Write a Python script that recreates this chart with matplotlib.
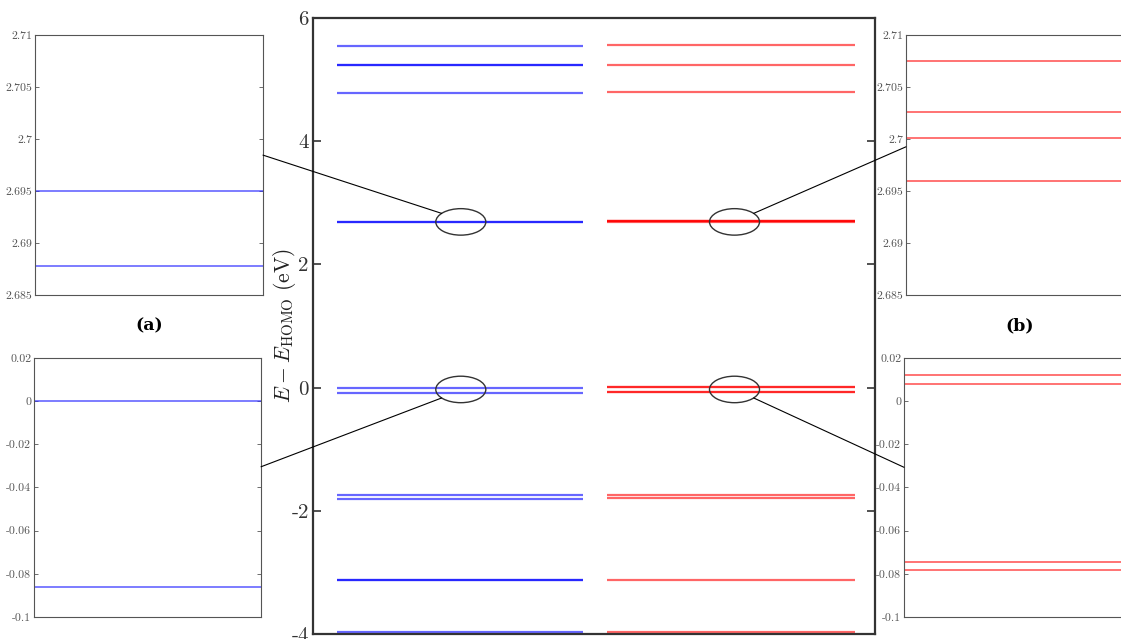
import matplotlib
matplotlib.use("Agg")
import matplotlib.pyplot as plt
import numpy as np
from matplotlib.patches import Ellipse, ConnectionPatch

plt.rcParams['mathtext.fontset'] = 'cm'
plt.rcParams['axes.unicode_minus'] = False

# ---- data ----
blue_levels = [5.55, 5.23, 5.23, 4.79, 2.695, 2.6878, 0.0, -0.086,
               -1.75, -1.81, -3.12, -3.13, -3.96]
red_levels = [5.56, 5.24, 4.80, 2.7075, 2.7026, 2.7001, 2.6960,
              0.0121, 0.0081, -0.0746, -0.0783, -1.74, -1.80, -3.12, -3.96]

inset_a_top = [2.695, 2.6878]
inset_a_bot = [0.0, -0.086]
inset_b_top = [2.7075, 2.7026, 2.7001, 2.6960]
inset_b_bot = [0.0121, 0.0081, -0.0746, -0.0783]

main_ticks = [6, 4, 2, 0, -2, -4]
main_ticklabels = ["6", "4", "2", "0", "-2", "-4"]
top_ticks = [2.71, 2.705, 2.70, 2.695, 2.69, 2.685]
top_ticklabels = ["2.71", "2.705", "2.7", "2.695", "2.69", "2.685"]
bot_ticks = [0.02, 0.0, -0.02, -0.04, -0.06, -0.08, -0.1]
bot_ticklabels = ["0.02", "0", "-0.02", "-0.04", "-0.06", "-0.08", "-0.1"]

W, H = 1121, 639
fig = plt.figure(figsize=(W / 100, H / 100), dpi=100)


def px_axes(l, t, r, b):
    return fig.add_axes([l / W, 1 - b / H, (r - l) / W, (b - t) / H])


# ---- main axes ----
ax = px_axes(313, 18, 875, 634)
ax.set_xlim(0, 1)
ax.set_ylim(-4, 6)
for y in blue_levels:
    ax.plot([0.043, 0.481], [y, y], color='#0000ff', alpha=0.6, lw=1.6,
            solid_capstyle='butt')
for y in red_levels:
    ax.plot([0.524, 0.964], [y, y], color='#ff0000', alpha=0.6, lw=1.6,
            solid_capstyle='butt')
ax.set_xticks([])
ax.set_yticks(main_ticks)
ax.set_yticklabels(main_ticklabels, fontfamily='cmr10', fontsize=15)
ax.tick_params(axis='y', direction='in', length=6, width=1.2, right=True,
               pad=3, colors='#333333')
for s in ax.spines.values():
    s.set_linewidth(1.6)
    s.set_color('#333333')
ax.set_ylabel(r'$E - E_{\mathrm{HOMO}}\ \mathrm{(eV)}$', fontsize=15.5,
              labelpad=-5, color='#222222')

# ellipses
ell_w, ell_h = 0.089, 0.43
centers = [(0.263, 2.69), (0.263, -0.03), (0.750, 2.69), (0.750, -0.03)]
for c in centers:
    ax.add_patch(Ellipse(c, ell_w, ell_h, fill=False, ec='#333333', lw=1.0,
                         zorder=5))


def ell_pt(c, deg):
    t = np.deg2rad(deg)
    return (c[0] + ell_w / 2 * np.cos(t), c[1] + ell_h / 2 * np.sin(t))


# ---- insets ----
def make_inset(rect, levels, color, ylim, ticks, labels):
    a = px_axes(*rect)
    a.set_xlim(0, 1)
    a.set_ylim(*ylim)
    for y in levels:
        a.plot([0, 1], [y, y], color=color, lw=1.1, alpha=0.8)
    a.set_xticks([])
    a.set_yticks(ticks)
    a.set_yticklabels(labels, fontfamily='cmr10', fontsize=8.5,
                      color='#444444')
    a.tick_params(axis='y', direction='in', length=3, width=0.6,
                  right=True, pad=2, colors='#555555')
    for s in a.spines.values():
        s.set_linewidth(0.8)
        s.set_color('#555555')
    return a


ax_at = make_inset((35, 35, 263, 295), inset_a_top, '#3030ff',
                   (2.685, 2.71), top_ticks, top_ticklabels)
ax_ab = make_inset((34, 358, 261, 617), inset_a_bot, '#3030ff',
                   (-0.1, 0.02), bot_ticks, bot_ticklabels)
ax_bt = make_inset((906, 35, 1134, 295), inset_b_top, '#ff2020',
                   (2.685, 2.71), top_ticks, top_ticklabels)
ax_bb = make_inset((904, 358, 1131, 617), inset_b_bot, '#ff2020',
                   (-0.1, 0.02), bot_ticks, bot_ticklabels)

# connectors
conns = [
    (ell_pt(centers[0], 140), ax_at, (1, 0.538)),
    (ell_pt(centers[1], 220), ax_ab, (1, 0.58)),
    (ell_pt(centers[2], 40), ax_bt, (0, 0.57)),
    (ell_pt(centers[3], 320), ax_bb, (0, 0.578)),
]
for p, a, q in conns:
    cp = ConnectionPatch(xyA=p, coordsA=ax.transData, xyB=q,
                         coordsB=a.transAxes, color='black', lw=0.8)
    fig.add_artist(cp)

fig.text(149 / W, 1 - 326 / H, '(a)', ha='center', va='center',
         fontsize=12.5, fontweight='bold', fontfamily='DejaVu Serif')
fig.text(1020 / W, 1 - 326 / H, '(b)', ha='center', va='center',
         fontsize=12.5, fontweight='bold', fontfamily='DejaVu Serif')

fig.savefig('out.png', dpi=100)
